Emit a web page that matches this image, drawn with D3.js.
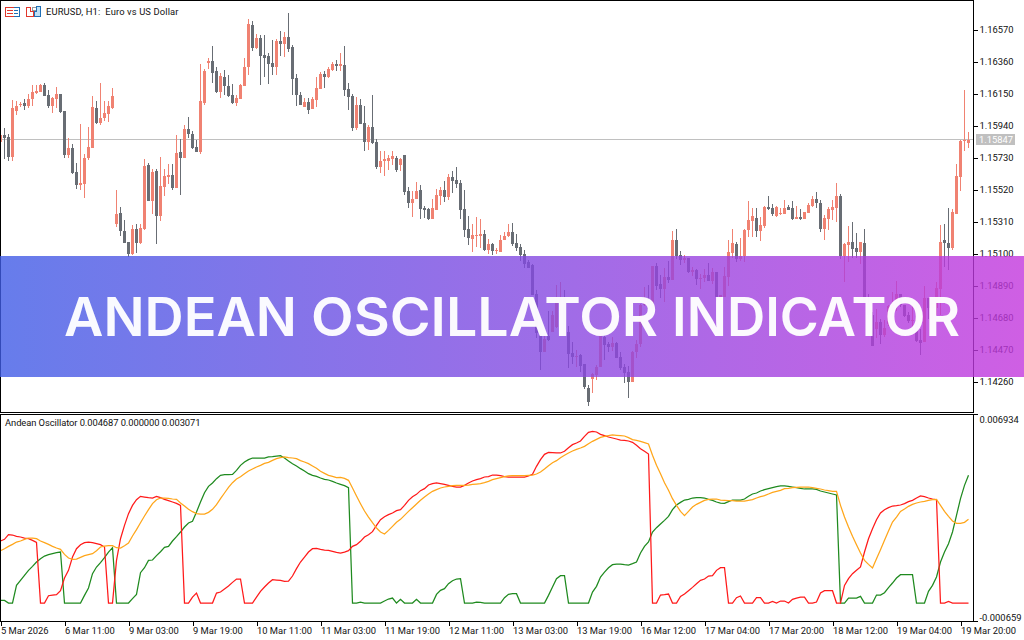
<!DOCTYPE html>
<html>
<head>
<meta charset="utf-8">
<style>
html, body { margin: 0; padding: 0; background: #fff; }
svg { display: block; }
.tick text, .lbl { font-family: Roboto, sans-serif; font-size: 9.4px; fill: #111; white-space: pre; }
</style>
<script src="https://cdn.jsdelivr.net/npm/d3@7"></script>
</head>
<body>
<div id="chart"></div>
<script>
// EURUSD H1 candles, in points above 1.00000 (15847 means 1.15847)
var opens = [15834,15878,15865,15734,16036,16075,16088,16068,16114,16154,16160,16206,16141,16068,16114,16147,16036,15747,15793,15635,15550,15556,15727,15793,16055,15957,15990,16016,16055,15294,15366,15248,15176,15097,15261,15169,15261,15681,15445,15642,15346,15537,15602,15615,15530,15766,15727,15917,15885,15799,15766,16088,16351,16364,16298,16160,16259,16200,16141,16088,16114,16200,16324,16600,16449,16515,16403,16396,16351,16324,16495,16475,16521,16456,16252,16141,16062,16095,16049,16108,16180,16278,16259,16305,16344,16331,16337,16180,16134,15924,16075,15957,15832,15930,15832,15668,15707,15707,15720,15727,15681,15747,15510,15432,15458,15517,15399,15392,15327,15386,15478,15517,15471,15602,15583,15563,15392,15261,15195,15215,15215,15228,15123,15163,15117,15110,15189,15215,15241,15169,15143,15097,15044,15025,14834,14565,14454,14559,14585,14620,14782,14808,14585,14447,14421,14434,14375,14217,14277,14303,14355,14552,14506,14487,14513,14421,14355,14323,14257,14454,14506,14762,14802,14736,15018,14900,14867,14946,14926,15189,15090,15058,15071,14979,14992,14933,14939,14959,14920,14979,14802,14815,14946,15104,15163,15064,15084,15255,15314,15333,15248,15281,15405,15399,15346,15359,15359,15405,15399,15327,15340,15327,15366,15412,15458,15432,15261,15327,15386,15399,15478,15084,15156,15176,15136,15110,15169,14775,14697,14605,14651,14565,14638,14756,14769,14834,14762,14697,14657,14664,14533,14519,14808,14743,14743,14867,15189,15169,15136,15359,15602,15839,15825];
var highs = [15878,15924,15885,16108,16101,16095,16114,16147,16206,16206,16213,16217,16173,16127,16193,16147,16036,15858,15819,15694,15950,15753,15930,16134,16101,16217,16101,16101,16186,15517,15405,15320,15176,15287,15294,15294,15720,15694,15655,15655,15734,15655,15688,15688,15878,15852,15944,15996,15904,15845,16344,16311,16383,16462,16324,16285,16305,16272,16213,16141,16213,16383,16639,16626,16541,16534,16534,16416,16501,16508,16561,16554,16679,16469,16278,16160,16121,16121,16127,16259,16291,16298,16324,16357,16370,16416,16462,16219,16147,16127,16114,16068,15944,16141,15852,15773,15773,15747,15773,15740,15727,15747,15537,15510,15569,15550,15412,15399,15458,15524,15537,15576,15622,15642,15668,15583,15517,15346,15294,15340,15327,15255,15195,15169,15136,15222,15241,15294,15300,15228,15163,15123,15058,15031,14861,14598,14565,14723,14723,14893,14913,14861,14624,14519,14467,14441,14375,14237,14316,14368,14565,14565,14519,14552,14519,14454,14375,14362,14460,14533,14769,14880,14893,15018,15038,14959,15005,15051,15248,15261,15117,15090,15071,15012,14999,14966,14999,15038,15005,14979,14828,15012,15189,15261,15176,15202,15261,15445,15399,15399,15340,15412,15478,15425,15412,15399,15451,15419,15445,15412,15392,15373,15432,15478,15504,15451,15353,15405,15451,15563,15491,15169,15281,15307,15235,15176,15261,14834,14716,14736,14670,14664,14762,14848,14920,14834,14762,14716,14762,14729,14605,14887,14808,14802,14913,15287,15294,15399,15392,15688,15845,16173,15898];
var lows = [15834,15718,15710,15707,16009,16062,16042,16055,16068,16147,16160,16134,16055,16022,16055,16022,15727,15727,15622,15524,15517,15465,15714,15793,15950,15944,15970,15963,16049,15274,15215,15169,15077,15090,15104,15163,15255,15445,15359,15163,15314,15478,15556,15517,15530,15484,15727,15858,15786,15766,15753,16075,16311,16219,16154,16121,16141,16127,16081,16068,16114,16200,16272,16429,16442,16206,16259,16213,16272,16272,16396,16390,16423,16141,16068,16075,16062,16016,16049,16062,16180,16186,16252,16298,16298,16298,16134,16042,15904,15911,15950,15773,15780,15819,15655,15629,15609,15648,15681,15635,15642,15484,15399,15340,15458,15327,15333,15320,15327,15386,15419,15438,15451,15497,15530,15327,15209,15156,15110,15143,15136,15117,15097,15090,15097,15110,15189,15209,15150,15117,15051,15005,15005,14828,14546,14336,14454,14526,14585,14609,14690,14559,14349,14375,14355,14323,14211,14099,14185,14270,14355,14401,14454,14460,14414,14336,14250,14152,14257,14414,14487,14756,14736,14736,14861,14808,14782,14907,14926,15064,15025,15038,14972,14953,14893,14867,14913,14920,14900,14788,14664,14815,14887,15071,15044,15051,15044,15209,15209,15209,15182,15268,15386,15346,15340,15353,15359,15386,15320,15327,15320,15327,15366,15405,15399,15241,15189,15255,15320,15307,15064,14913,15044,15071,15071,15031,14775,14670,14493,14546,14506,14552,14624,14723,14723,14749,14683,14644,14592,14519,14434,14519,14670,14644,14697,14697,15012,14992,15123,15359,15510,15773,15793];
var closes = [15878,15858,15734,16055,16068,16081,16068,16114,16160,16167,16206,16134,16068,16121,16147,16029,15747,15793,15629,15550,15563,15727,15799,16062,15957,15990,16022,16068,16134,15359,15248,15169,15097,15261,15169,15268,15675,15445,15635,15346,15543,15609,15615,15530,15760,15727,15917,15885,15793,15766,16101,16298,16364,16285,16160,16265,16200,16134,16088,16121,16206,16324,16606,16449,16515,16396,16383,16344,16324,16495,16475,16521,16442,16245,16141,16075,16095,16042,16114,16186,16278,16259,16311,16344,16331,16344,16173,16127,15924,16075,15950,15832,15930,15825,15668,15707,15720,15727,15740,15648,15720,15504,15432,15458,15510,15392,15386,15327,15399,15484,15517,15471,15602,15576,15556,15386,15255,15202,15222,15222,15228,15123,15163,15117,15123,15189,15215,15241,15163,15136,15090,15031,15005,14828,14578,14454,14539,14533,14697,14788,14802,14559,14441,14421,14428,14362,14224,14126,14309,14355,14559,14500,14487,14513,14414,14349,14316,14257,14454,14506,14762,14799,14736,15018,14887,14867,14946,14926,15189,15084,15058,15071,14979,14992,14933,14939,14959,14920,14979,14815,14828,14953,15110,15169,15064,15084,15255,15320,15346,15248,15287,15405,15392,15359,15405,15366,15399,15386,15327,15340,15327,15373,15419,15458,15432,15261,15333,15392,15405,15478,15084,15163,15176,15130,15110,15176,14775,14697,14493,14651,14565,14611,14756,14775,14834,14762,14690,14657,14664,14526,14513,14808,14743,14802,14874,15176,15169,15136,15373,15609,15839,15845,15845];

// Andean Oscillator, in millionths (3071 means 0.003071)
var redLine = [2275,2336,2507,2495,2446,2422,2385,2360,2299,2226,0,0,269,294,306,453,917,1199,1688,1993,2140,2214,2238,2214,2177,2140,2055,0,0,1565,2360,2850,3278,3583,3791,3914,3889,3865,3852,3914,3865,3804,3755,3706,3657,3583,0,0,220,367,0,0,0,0,367,404,514,624,758,881,881,0,0,0,220,428,587,734,856,844,832,795,807,991,1260,1504,1688,1871,1993,2006,1969,1945,1932,1896,1859,1835,1871,1920,2079,2140,2263,2422,2507,2617,2850,3058,3168,3241,3302,3388,3424,3583,3767,3901,3987,4122,4195,4329,4378,4403,4378,4354,4317,4281,4256,4256,4317,4403,4476,4525,4562,4623,4635,4696,4696,4672,4635,4623,4623,4623,4623,4623,4660,4721,5014,5259,5455,5528,5516,5504,5504,5565,5699,5809,5870,5944,6115,6262,6298,6274,6188,6139,6091,6054,6017,5980,5968,5944,5895,5785,5662,5565,5467,0,0,294,306,330,0,0,245,330,453,575,709,832,881,991,1003,1199,1296,1296,0,0,196,257,0,0,0,196,196,0,0,61,0,73,73,0,135,183,220,220,0,0,37,367,453,453,453,0,0,648,893,1076,1199,1321,1871,2360,2727,3058,3302,3424,3498,3559,3571,3596,3645,3718,3767,3852,3926,3901,3852,3816,3791,0,0,61,0,0,0,0,0];
var greenLine = [98,98,0,0,648,832,1015,1199,1345,1504,1627,1724,1773,1810,1847,1871,0,0,0,0,0,281,550,1076,1321,1480,1663,1871,2030,0,0,0,0,159,318,1113,1296,1565,1578,1737,1883,2042,2079,2275,2434,2605,2788,2935,2996,3339,3706,4048,4281,4403,4562,4684,4709,4709,4721,4868,5051,5173,5259,5320,5320,5320,5320,5357,5369,5393,5406,5320,5210,5112,5027,4929,4843,4745,4684,4647,4586,4537,4513,4464,4403,4354,4305,4232,0,0,37,0,0,0,0,0,73,147,183,0,135,0,0,0,135,0,0,0,0,318,465,526,709,819,881,893,0,0,0,37,24,0,0,0,0,0,196,318,342,342,0,0,0,0,0,0,0,281,587,893,1003,1003,0,0,0,0,0,0,404,612,954,1137,1296,1406,1431,1431,1406,1394,1443,1504,1835,2079,2238,2605,2764,2899,3033,3180,3424,3596,3693,3779,3804,3852,3865,3865,3852,3804,3767,3706,3669,3657,3718,3779,3779,3779,3816,3914,3999,4036,4109,4158,4195,4232,4268,4293,4293,4281,4256,4232,4207,4183,4183,4183,4170,4109,4073,4036,3999,3963,0,0,183,183,183,245,0,0,0,294,294,379,563,734,917,1040,1040,1040,1040,0,0,0,428,648,954,1504,1871,2177,2605,3216,3828,4317,4687];
var orangeLine = [1920,1993,2079,2152,2238,2275,2336,2385,2385,2360,2275,2214,2152,2079,2018,1969,1786,1651,1602,1614,1676,1737,1773,1810,1920,2055,2091,2104,2104,2030,2018,2104,2201,2458,2691,2947,3192,3424,3645,3791,3852,3852,3840,3816,3804,3669,3559,3437,3351,3278,3265,3265,3327,3437,3608,3828,4036,4244,4415,4550,4635,4745,4843,4916,4990,5051,5124,5161,5234,5296,5332,5357,5332,5320,5296,5222,5173,5112,5027,4941,4831,4757,4684,4647,4598,4611,4574,4501,4219,3926,3645,3375,3155,2947,2752,2605,2532,2666,2813,2960,3070,3216,3363,3498,3632,3767,3889,3999,4097,4158,4219,4256,4281,4305,4317,4317,4317,4329,4354,4366,4378,4415,4464,4525,4562,4598,4635,4660,4672,4672,4672,4672,4684,4696,4733,4806,4916,5039,5149,5222,5332,5418,5504,5577,5638,5687,5748,5846,5932,6005,6078,6115,6139,6164,6152,6139,6127,6066,5993,5968,5932,5883,5834,5418,5051,4745,4415,4134,3828,3583,3363,3204,3363,3522,3620,3693,3767,3804,3816,3816,3779,3767,3755,3755,3742,3742,3742,3767,3791,3852,3901,3938,3999,4060,4097,4134,4195,4207,4232,4244,4256,4256,4256,4232,4207,4183,4146,4122,4097,4097,3583,3155,2788,2446,2140,1835,1565,1419,1284,1627,1957,2299,2642,2972,3155,3363,3449,3547,3620,3669,3706,3730,3767,3791,3804,3583,3363,3180,3009,2923,2923,2960,3071];

var priceTicks = [16570,16360,16150,15940,15730,15520,15310,15100,14890,14680,14470,14260];
var lastPrice = 15847;
var oscTicks = [6934,-659];
var oscTickLabels = ["0.006934","-0.000659"];
var timeTickBars = [0,16,32,48,64,80,96,112,128,144,160,176,192,208,224,240];
var timeLabels = ["5 Mar 2026","6 Mar 11:00","9 Mar 03:00","9 Mar 19:00","10 Mar 11:00","11 Mar 03:00","11 Mar 19:00","12 Mar 11:00","13 Mar 03:00","13 Mar 19:00","16 Mar 12:00","17 Mar 04:00","17 Mar 20:00","18 Mar 12:00","19 Mar 04:00","19 Mar 20:00"];
var bannerWords = ["ANDEAN","OSCILLATOR","INDICATOR"];

var width = 1024,
    height = 640,
    plotRight = 973,
    upColor = "#f08272",
    downColor = "#686d74";

var svg = d3.select("#chart").append("svg")
    .attr("width", width)
    .attr("height", height)
    .attr("viewBox", "0 0 " + width + " " + height);

var defs = svg.append("defs");
var grad = defs.append("linearGradient").attr("id", "banner");
grad.append("stop").attr("offset", "0%").attr("stop-color", "rgb(64,92,230)");
grad.append("stop").attr("offset", "100%").attr("stop-color", "rgb(195,55,221)");
defs.append("clipPath").attr("id", "plotClip").append("rect")
    .attr("x", 0).attr("y", 0).attr("width", plotRight).attr("height", 412);

var x = d3.scaleLinear().domain([0, 243]).range([0.5, 972.5]);
var yPrice = d3.scaleLinear().domain([16570, 14260]).range([29.5, 381.5]);
var yOsc = d3.scaleLinear().domain([6934, -659]).range([414, 621]);

// current price line goes under the candles
var py = Math.floor(yPrice(lastPrice));
svg.append("line")
    .attr("x1", 0).attr("x2", plotRight)
    .attr("y1", py + 0.5).attr("y2", py + 0.5)
    .attr("stroke", "#c0c0c0");

var candles = svg.append("g")
    .attr("clip-path", "url(#plotClip)")
    .attr("shape-rendering", "crispEdges")
    .selectAll("g")
    .data(opens)
    .enter().append("g")
    .attr("fill", function(d, i) {
        return closes[i] >= d ? upColor : downColor;
    });

candles.append("rect")
    .attr("x", function(d, i) { return x(i) - 0.5; })
    .attr("width", 1)
    .attr("y", function(d, i) { return Math.round(yPrice(highs[i])); })
    .attr("height", function(d, i) {
        return Math.max(1, Math.round(yPrice(lows[i])) - Math.round(yPrice(highs[i])));
    });

candles.append("rect")
    .attr("x", function(d, i) { return x(i) - 1.5; })
    .attr("width", 3)
    .attr("y", function(d, i) { return Math.round(yPrice(Math.max(d, closes[i]))); })
    .attr("height", function(d, i) {
        return Math.max(1, Math.round(yPrice(Math.min(d, closes[i]))) - Math.round(yPrice(Math.max(d, closes[i]))));
    });

// oscillator lines
var line = d3.line()
    .x(function(d, i) { return x(i); })
    .y(function(d) { return yOsc(d); });

[[greenLine, "#1f8a1f"], [redLine, "#ff1a1a"], [orangeLine, "#ffa61a"]].forEach(function(s) {
    svg.append("path")
        .attr("d", line(s[0]))
        .attr("fill", "none")
        .attr("stroke", s[1])
        .attr("stroke-width", 1.25);
});

// frames
svg.append("g")
    .attr("fill", "none")
    .attr("stroke", "#000")
    .attr("shape-rendering", "crispEdges")
    .selectAll("rect")
    .data([[0, 412], [414, 621]])
    .enter().append("rect")
    .attr("x", 0.5)
    .attr("y", function(d) { return d[0] + 0.5; })
    .attr("width", plotRight)
    .attr("height", function(d) { return d[1] - d[0]; });

// axes
var priceAxis = d3.axisRight(yPrice)
    .tickValues(priceTicks)
    .tickSize(4)
    .tickPadding(2)
    .tickFormat(function(d) { return (1 + d / 100000).toFixed(5); });

var oscAxis = d3.axisRight(yOsc)
    .tickValues(oscTicks)
    .tickSize(4)
    .tickPadding(2)
    .tickFormat(function(d, i) { return oscTickLabels[i]; });

var timeAxis = d3.axisBottom(x)
    .tickValues(timeTickBars)
    .tickSize(4)
    .tickPadding(2)
    .tickFormat(function(d, i) { return timeLabels[i]; });

function styleAxis(g) {
    g.select(".domain").remove();
    g.selectAll("line").attr("stroke", "#000").attr("shape-rendering", "crispEdges");
}

svg.append("g").attr("transform", "translate(" + (plotRight + 0.5) + ",0)").call(priceAxis).call(styleAxis);
var oscG = svg.append("g").attr("transform", "translate(" + (plotRight + 0.5) + ",0)").call(oscAxis).call(styleAxis);
oscG.selectAll(".tick text").attr("dy", function(d) { return d > 0 ? "0.95em" : "-0.1em"; });
var timeG = svg.append("g").attr("transform", "translate(0,621.5)").call(timeAxis).call(styleAxis);
timeG.selectAll(".tick text").attr("text-anchor", "start");

// current price label
svg.append("rect")
    .attr("x", 976).attr("y", py - 5).attr("width", 39).attr("height", 11)
    .attr("fill", "#c0c0c0");
svg.append("text")
    .attr("class", "lbl")
    .attr("x", 979).attr("y", py + 4)
    .style("fill", "#fff")
    .text((1 + lastPrice / 100000).toFixed(5));

svg.append("text").attr("class", "lbl")
    .attr("x", 46).attr("y", 15)
    .attr("textLength", 132.5)
    .text("EURUSD, H1:  Euro vs US Dollar");
svg.append("text").attr("class", "lbl")
    .attr("x", 5).attr("y", 426)
    .attr("textLength", 195.5)
    .text("Andean Oscillator 0.004687 0.000000 0.003071");

// toolbar icons
var icons = svg.append("g").attr("fill", "none").attr("shape-rendering", "crispEdges");
icons.append("path").attr("stroke", "#e0372c")
    .attr("d", "M13.5 7.5H5.5V16.5H13.5M7 10.5H13M7 13.5H13");
icons.append("path").attr("stroke", "#1f6fb5")
    .attr("d", "M13.5 7.5H19.5V16.5H13.5M14 10.5H18M14 13.5H18");
icons.append("path").attr("stroke", "#e0372c")
    .attr("d", "M26.5 16.5V7.5H30.5V11.5H33.5V16.5Z");
icons.append("rect").attr("x", 32).attr("y", 7).attr("width", 4).attr("height", 3).attr("stroke", "#999");
icons.append("path").attr("stroke", "#1f6fb5").attr("fill", "#bfe0f5")
    .attr("d", "M36.5 6.5H40.5V16.5H34.5V11.5H36.5Z");

// banner over the chart
svg.append("rect")
    .attr("x", 0).attr("y", 256).attr("width", width).attr("height", 121)
    .attr("fill", "url(#banner)")
    .attr("opacity", 0.8);

var wordStart = d3.scaleOrdinal().domain(bannerWords).range([64, 311, 672]);
var wordWidth = d3.scaleOrdinal().domain(bannerWords).range([233, 347, 288]);

svg.append("g").selectAll("text")
    .data(bannerWords)
    .enter().append("text")
    .attr("x", function(d) { return wordStart(d); })
    .attr("y", 336)
    .attr("textLength", function(d) { return wordWidth(d); })
    .attr("lengthAdjust", "spacingAndGlyphs")
    .attr("fill", "#fff")
    .attr("fill-opacity", 0.96)
    .style("font-family", "Inter, sans-serif")
    .style("font-weight", 600)
    .style("font-size", "54px")
    .text(function(d) { return d; });
</script>
</body>
</html>
